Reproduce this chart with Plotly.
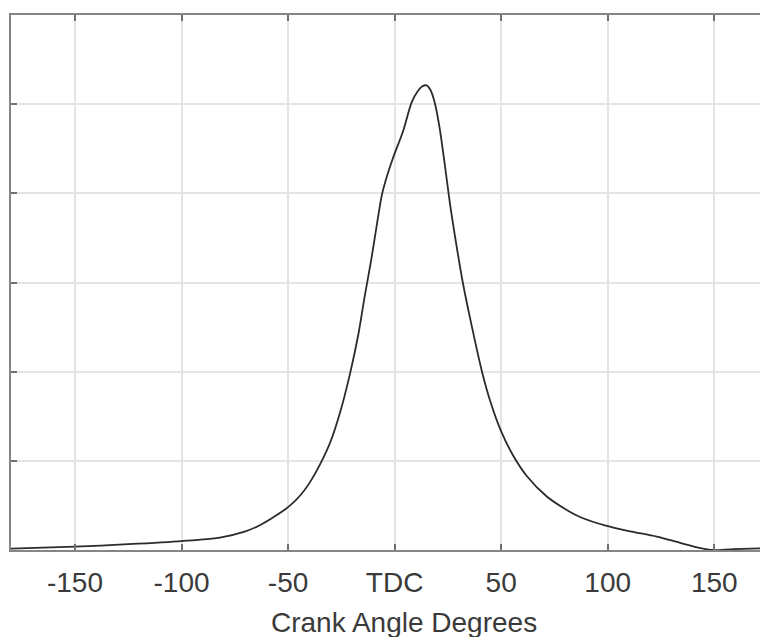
import plotly.graph_objects as go

# Crank angle (degrees) and cylinder pressure-like trace (arbitrary units)
crank_angle = [-180, -150, -125, -100, -82, -70, -63, -56, -49, -44, -40, -35, -30, -25.5, -21,
               -17, -14, -11, -8, -6, -4.5, -1, 4, 8, 11, 13, 15, 17, 19, 21, 23, 26, 29, 32,
               35.4, 41, 45, 50, 55.6, 62, 71.4, 80, 87, 99.5, 110.5, 123, 134, 143, 149, 159, 176]
pressure = [0.015, 0.037, 0.065, 0.10, 0.14, 0.21, 0.28, 0.38, 0.50, 0.62, 0.75, 0.96, 1.22, 1.55, 1.97,
            2.42, 2.85, 3.25, 3.70, 3.98, 4.12, 4.38, 4.70, 5.02, 5.15, 5.20, 5.21, 5.15, 5.00, 4.75, 4.42, 3.88, 3.42, 3.00,
            2.60, 2.00, 1.66, 1.33, 1.06, 0.83, 0.60, 0.46, 0.37, 0.27, 0.21, 0.15, 0.08, 0.025, 0.0, 0.01, 0.02]

x_tickvals = [-150, -100, -50, 0, 50, 100, 150]
x_ticktext = ["-150", "-100", "-50", "TDC", "50", "100", "150"]
y_tickvals = [0, 1, 2, 3, 4, 5, 6]
x_title = "Crank Angle Degrees"

fig = go.Figure()
fig.add_trace(go.Scatter(
    x=crank_angle, y=pressure, mode="lines",
    line=dict(color="#2b2b2b", width=1.8, shape="spline", smoothing=0.8),
    hoverinfo="skip", showlegend=False,
))

fig.update_layout(
    width=760, height=629,
    margin=dict(l=3, r=0, t=7, b=87),
    paper_bgcolor="white", plot_bgcolor="white",
    font=dict(family="Liberation Sans, Arial, sans-serif", color="#3a3a3a"),
    xaxis=dict(
        range=[-180, 175.2],
        tickvals=x_tickvals, ticktext=x_ticktext,
        tickfont=dict(size=28, color="#3a3a3a"),
        ticks="inside", ticklen=6, tickwidth=2, tickcolor="#707070",
        ticklabelstandoff=6,
        showline=True, linecolor="#858585", linewidth=2, mirror="ticks",
        showgrid=True, gridcolor="#e4e4e4", gridwidth=1.5,
        zeroline=False,
    ),
    yaxis=dict(
        range=[0, 6],
        tickvals=y_tickvals, showticklabels=False,
        ticks="inside", ticklen=6, tickwidth=2, tickcolor="#707070",
        showline=True, linecolor="#858585", linewidth=2, mirror=False,
        showgrid=True, gridcolor="#e4e4e4", gridwidth=1.5,
        zeroline=False,
    ),
    annotations=[dict(
        text=x_title, xref="paper", yref="paper", x=0.519, y=0,
        xanchor="center", yanchor="middle", yshift=-72, showarrow=False,
        font=dict(size=28, color="#3a3a3a"),
    )],
)

fig.write_html("out.html")
